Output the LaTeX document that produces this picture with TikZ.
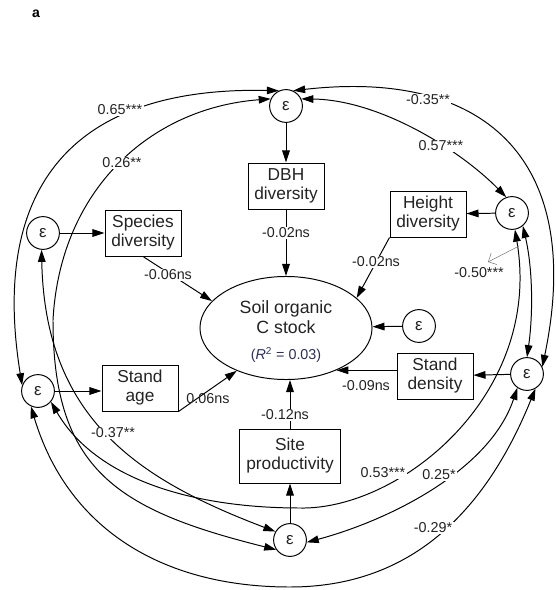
\documentclass[tikz,border=0pt]{standalone}
\usepackage{fontspec}
\setmainfont{Liberation Sans}
\usetikzlibrary{arrows.meta,shapes.geometric}

\definecolor{txtgray}{RGB}{35,35,35}
\definecolor{rblue}{RGB}{45,45,95}

\tikzset{
  >={Triangle[length=3mm,width=1.9mm]},
  obs/.style={draw, line width=0.7pt, text=txtgray, minimum width=19mm, minimum height=11.5mm,
    inner sep=1pt, align=center, font=\fontsize{12.3}{13.5}\selectfont},
  err/.style={draw, circle, line width=0.7pt, text=txtgray, minimum size=8.2mm, inner sep=0pt,
    font=\fontsize{12}{14}\selectfont},
  eff/.style={line width=0.7pt, ->},
  cov/.style={line width=0.7pt, <->},
  lab/.style={text=txtgray, inner sep=1pt, font=\fontsize{10.2}{12}\selectfont},
}

\begin{document}
\begin{tikzpicture}[x=0.025cm, y=-0.025cm]
    \useasboundingbox (0,0) rectangle (556,590);
    \node[font=\bfseries\fontsize{10}{12}\selectfont] (tag) at (36,14) {a};

    % soil carbon
    \node[draw, ellipse, line width=0.7pt, text=txtgray, minimum width=43mm, minimum height=25.75mm,
        inner sep=0pt, align=center, font=\fontsize{12.6}{14.2}\selectfont] (soil) at (286,328)
        {\rule{0pt}{14pt}Soil organic\\C stock\\[4pt]{\fontsize{10.2}{12}\selectfont\color{rblue}(\textit{R}\textsuperscript{2} = 0.03)}};

    % observed variables
    \node[obs] (dbh) at (286,186) {DBH\\diversity};
    \node[obs] (ht) at (428,214) {Height\\diversity};
    \node[obs] (sp) at (143,233) {Species\\diversity};
    \node[obs] (den) at (435,376) {Stand\\density};
    \node[obs] (age) at (140,388) {Stand\\age};
    \node[obs, minimum width=25.25mm, minimum height=13.5mm] (site) at (290,456) {Site\\productivity};

    % error terms
    \node[err] (eT) at (286,106) {ε};
    \node[err] (eH) at (512,213) {ε};
    \node[err] (eS) at (43,233) {ε};
    \node[err] (eC) at (419,326) {ε};
    \node[err] (eD) at (527,374) {ε};
    \node[err] (eA) at (38,391) {ε};
    \node[err] (eP) at (290,540) {ε};

    % direct paths
    \draw[eff] (eT) -- (dbh);
    \draw[eff] (dbh) -- (soil);
    \draw[eff] (eS) -- (sp);
    \draw[eff] (sp.south) -- (soil.160);
    \draw[eff] (eH) -- (ht);
    \draw[eff] (ht.south west) -- (soil.23);
    \draw[eff] (eC) -- (soil);
    \draw[eff] (eD) -- (den);
    \draw[eff] (den.west |- soil.-40) -- (soil.-40);
    \draw[eff] (eA) -- (eA -| age.west);
    \draw[eff] (age.south east) -- (soil.221);
    \draw[eff] (eP) -- (site);
    \draw[eff] (site.north) -- (site.north |- soil.south);

    % covariances between errors
    \draw[cov] (eT.115) .. controls (60,86) and (-8,200) .. (eA.160);
    \draw[cov] (eT.155) .. controls (150,108) and (60,190) .. (53,320)
        .. controls (53,470) and (117,510) .. (eP.215);
    \draw[cov] (eT.65) .. controls (493,68) and (584,167) .. (eD.25);
    \draw[cov] (eT.25) .. controls (380,100) and (460,150) .. (eH.110);
    \draw[cov] (eH.-50) .. controls (533,270) and (533,315) .. (eD.90);
    \draw[cov] (eS.-95) .. controls (45,420) and (140,480) .. (eP.150);
    \draw[cov] (eA.-40) .. controls (95,478) and (190,508) .. (300,508)
        .. controls (400,510) and (543,395) .. (eH.-80);
    \draw[cov] (eP.-8) .. controls (390,520) and (490,470) .. (eD.-125);
    \draw[cov] (eA.-115) .. controls (67,527) and (160,587) .. (290,587)
        .. controls (410,587) and (485,513) .. (eD.-60);

    % path coefficients
    \node[lab, fill=white] (bS) at (168,275) {-0.06ns};
    \node[lab, fill=white] (bD) at (286,233) {-0.02ns};
    \node[lab, fill=white] (bH) at (376,262) {-0.02ns};
    \node[lab] (bA) at (208,399) {0.06ns};
    \node[lab] (bN) at (366,386) {-0.09ns};
    \node[lab, fill=white] (bP) at (285,415) {-0.12ns};

    % correlation coefficients
    \node[lab, fill=white] (c65) at (120,110) {0.65***};
    \node[lab, fill=white] (c26) at (122,163) {0.26**};
    \node[lab, fill=white] (c35) at (428,100) {-0.35**};
    \node[lab, fill=white] (c57) at (441,146) {0.57***};
    \node[lab] (c50) at (479,273) {-0.50***};
    \node[lab, fill=white] (c37) at (113,433) {-0.37**};
    \node[lab, fill=white] (c53) at (383,473) {0.53***};
    \node[lab, fill=white] (c25) at (439,475) {0.25*};
    \node[lab, fill=white] (c29) at (433,528) {-0.29*};

    \coordinate (p50) at (519,246);
    \coordinate (q50) at (488,262);
    \draw[gray, line width=0.4pt, -{Straight Barb[length=1.6mm]}] (p50) -- (q50);
\end{tikzpicture}
\end{document}
